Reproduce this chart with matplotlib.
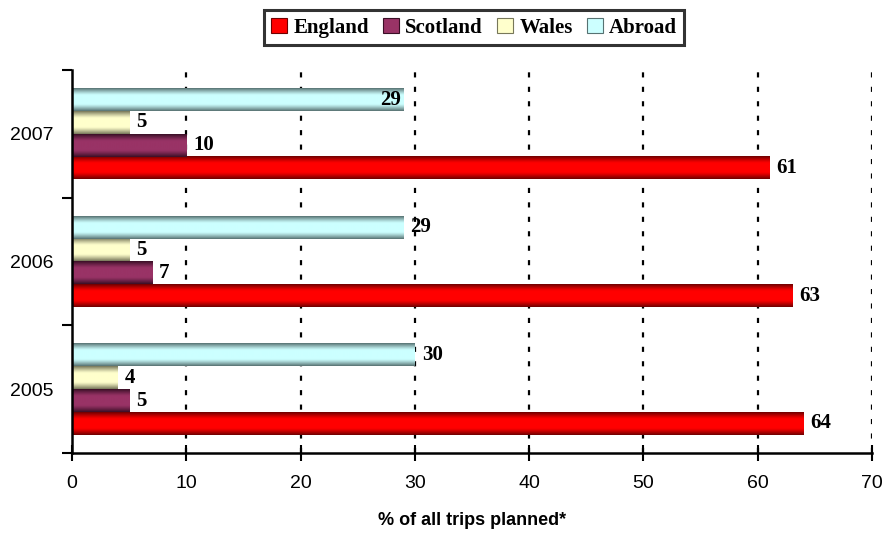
import numpy as np
import matplotlib
matplotlib.use('Agg')
import matplotlib.pyplot as plt
from matplotlib.patches import Patch
from matplotlib.ticker import FixedLocator

# Share of trips planned by destination, per year
years = ['2005', '2006', '2007']
destinations = ['England', 'Scotland', 'Wales', 'Abroad']
england = [64, 63, 61]
scotland = [5, 7, 10]
wales = [4, 5, 5]
abroad = [30, 29, 29]
series = [england, scotland, wales, abroad]

# (edge colour, centre colour) for the cylinder shading
shades = {
    'England': ('#6e0000', '#ff0000'),
    'Scotland': ('#3a0f26', '#993366'),
    'Wales': ('#77775a', '#ffffcc'),
    'Abroad': ('#577272', '#ccffff'),
}

fig = plt.figure(figsize=(8.88, 5.33), dpi=100)
ax = fig.add_axes([72 / 888, 1 - 453 / 533, 800 / 888, 383 / 533])

bar_h = 0.178
y = np.arange(len(years))


def shaded_bar(ax, y0, width, height, dark, light):
    dark = np.array(matplotlib.colors.to_rgb(dark))
    light = np.array(matplotlib.colors.to_rgb(light))
    t = np.linspace(0, 1, 64)
    w = np.clip(np.sin(np.pi * t) * 1.25, 0, 1)[:, None]
    grad = dark + (light - dark) * w
    img = np.repeat(grad[:, None, :], 2, axis=1)
    ax.imshow(img, extent=(0, width, y0, y0 + height), aspect='auto',
              interpolation='bilinear', zorder=3)


label_font = dict(family='Liberation Serif', fontweight='bold', fontsize=15)
for i, (name, vals) in enumerate(zip(destinations, series)):
    dark, light = shades[name]
    for j, v in enumerate(vals):
        y0 = y[j] + (i - 2) * bar_h
        shaded_bar(ax, y0, v, bar_h, dark, light)
        yc = y0 + bar_h / 2
        if name == 'Abroad' and years[j] == '2007':
            ax.annotate(str(v), (v, yc), xytext=(-2, 0), textcoords='offset points',
                        ha='right', va='center', zorder=5, **label_font)
        else:
            ax.annotate(str(v), (v, yc), xytext=(5, 0), textcoords='offset points',
                        ha='left', va='center', zorder=5, **label_font)

ax.set_xlim(0, 70)
ax.set_ylim(-0.5, 2.5)
ax.set_xticks(range(0, 71, 10))
ax.set_yticks(y)
ax.set_yticklabels(years)
ax.yaxis.set_minor_locator(FixedLocator([-0.5, 0.5, 1.5, 2.5]))
ax.tick_params(axis='y', which='major', length=0, pad=13, labelsize=14)
ax.tick_params(axis='y', which='minor', length=7, width=1.5, direction='out')
ax.tick_params(axis='x', length=12, width=1.5, direction='inout', pad=10, labelsize=14)
for lab in ax.get_xticklabels() + ax.get_yticklabels():
    lab.set_family('Liberation Sans')

for gx in range(10, 71, 10):
    ax.axvline(gx, color='black', lw=1.6, linestyle=(0, (2.3, 4.2)), zorder=1)

for s in ['top', 'right']:
    ax.spines[s].set_visible(False)
for s in ['left', 'bottom']:
    ax.spines[s].set_linewidth(1.8)
    ax.spines[s].set_zorder(6)

ax.set_xlabel('% of all trips planned*', family='Liberation Sans',
              fontweight='bold', fontsize=13, labelpad=14)

handles = [Patch(facecolor=shades[n][1], edgecolor=shades[n][0], lw=0.8) for n in destinations]
leg = fig.legend(handles, destinations, loc='upper center', bbox_to_anchor=(0.534, 1.0),
                 ncol=4, frameon=True, fancybox=False, handlelength=0.75, handleheight=0.75,
                 handletextpad=0.3, columnspacing=0.7, borderpad=0.35,
                 prop=dict(family='Liberation Serif', weight='bold', size=15))
leg.get_frame().set_edgecolor('black')
leg.get_frame().set_linewidth(2.2)

fig.savefig('out.png', dpi=100)
